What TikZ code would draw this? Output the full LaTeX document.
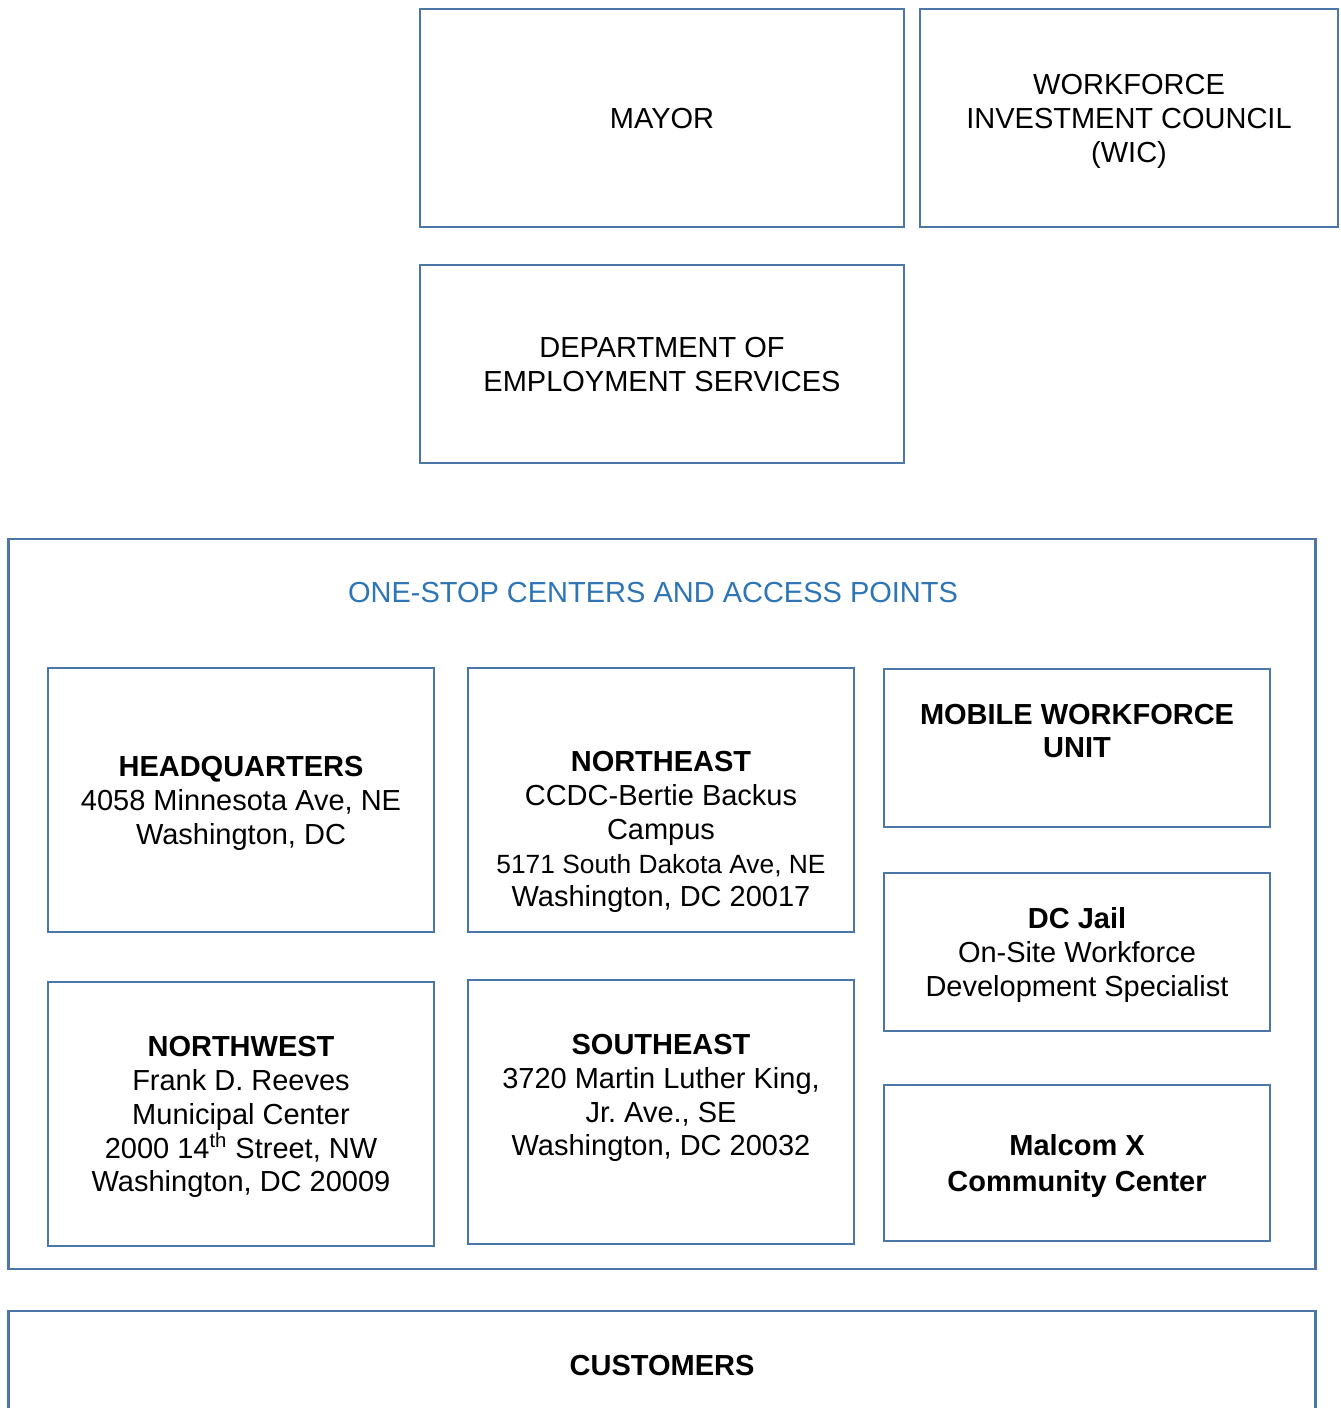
\documentclass[tikz,border=0pt]{standalone}
\usepackage{fontspec}
\setmainfont{Liberation Sans}
\usepackage{xcolor}
\usepackage{tikz}
\usetikzlibrary{positioning}
\frenchspacing

\definecolor{boxblue}{HTML}{4A76A8}
\definecolor{titleblue}{HTML}{2E75B6}

\begin{document}
\begin{tikzpicture}[
    x=0.02cm, y=-0.02cm,
    box/.style={rectangle, draw=boxblue, line width=1.6pt, align=center, inner sep=0pt,
        text depth=0pt, font=\fontsize{16.5}{19.3}\selectfont},
    bigbox/.style={box, minimum width=7.72cm, minimum height=5.28cm},
    sidebox/.style={box, minimum width=7.72cm, minimum height=3.16cm},
    txt/.style={align=center, inner sep=0pt, font=\fontsize{16.5}{19.3}\selectfont}
]
    \clip (0,0) rectangle (1340,1408);
    \fill[white] (0,0) rectangle (1340,1408);

    % Top level
    \node[box, minimum width=9.68cm, minimum height=4.36cm] (mayor) at (662,118) {MAYOR};
    \node[box, minimum width=8.36cm, minimum height=4.36cm] (wic) at (1129,118)
        {WORKFORCE\\INVESTMENT COUNCIL\\(WIC)};
    \node[box, minimum width=9.68cm, minimum height=3.96cm] (does) at (662,364)
        {DEPARTMENT OF\\EMPLOYMENT SERVICES};

    % One-stop centers
    \node[box, minimum width=26.16cm, minimum height=14.6cm] (centers) at (662,904) {};
    \node[txt, text=titleblue] (centers-title) at (653,593) {ONE-STOP CENTERS AND ACCESS POINTS};

    \node[bigbox] (hq) at (241,800)
        {\textbf{HEADQUARTERS}\\4058 Minnesota Ave, NE\\Washington, DC};
    \node[bigbox] (ne) at (661,800) {};
    \node[txt] (ne-txt) at (661,832)
        {\textbf{NORTHEAST}\\CCDC-Bertie Backus\\Campus\\
         {\fontsize{15}{17}\selectfont 5171 South Dakota Ave, NE}\\Washington, DC 20017};
    \node[bigbox] (nw) at (241,1114)
        {\textbf{NORTHWEST}\\Frank D. Reeves\\Municipal Center\\
         2000 14\textsuperscript{th} Street, NW\\Washington, DC 20009};
    \node[bigbox] (se) at (661,1112) {};
    \node[txt] (se-txt) at (661,1098)
        {\textbf{SOUTHEAST}\\3720 Martin Luther King,\\Jr. Ave., SE\\Washington, DC 20032};

    \node[sidebox] (mobile) at (1077,748) {};
    \node[txt] (mobile-txt) at (1077,731) {\textbf{MOBILE WORKFORCE}\\\textbf{UNIT}};
    \node[sidebox] (jail) at (1077,952)
        {\textbf{DC Jail}\\On-Site Workforce\\Development Specialist};
    \node[sidebox, minimum height=3.12cm] (malcom) at (1077,1163)
        {\textbf{Malcom X}\\[1.5pt]\textbf{Community Center}};

    % Customers
    \node[box, minimum width=26.16cm, minimum height=3.2cm] (cust) at (662,1391) {};
    \node[txt] (cust-txt) at (662,1366) {\textbf{CUSTOMERS}};
\end{tikzpicture}
\end{document}
